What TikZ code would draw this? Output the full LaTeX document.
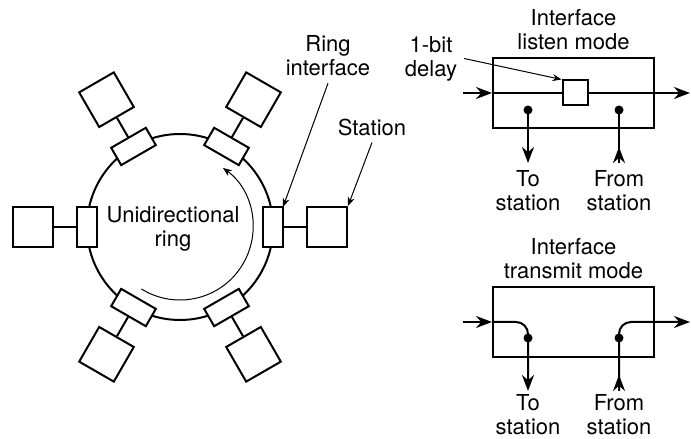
\documentclass[tikz,border=0pt]{standalone}
\usepackage{fontspec}
\setmainfont{TeX Gyre Heros}
\usetikzlibrary{arrows.meta,positioning}

\begin{document}
\begin{tikzpicture}[x=.5pt,y=.5pt,font=\fontsize{11}{12}\selectfont,st/.style={draw,line width=1pt,fill=white,minimum width=20pt,minimum height=20pt,inner sep=0pt},ifc/.style={draw,line width=1pt,fill=white,minimum width=10pt,minimum height=20pt,inner sep=0pt,outer sep=0pt},modebox/.style={draw,line width=1pt,minimum width=80.5pt,minimum height=35pt,inner sep=0pt},lbl/.style={align=center},a/.style={-{Stealth[length=8pt,width=6pt]},line width=1pt},pa/.style={-{Stealth[length=4.5pt,width=3.5pt]},line width=.5pt},jn/.style={circle,fill,inner sep=0pt,minimum size=4.5pt}]
\useasboundingbox (0,0) rectangle (691,439);
% ring with six stations
\node[circle,draw,line width=1pt,minimum size=93pt,inner sep=0pt,outer sep=0pt] (ring) at (180,212) {};
\foreach \a in {0,60,...,300}{
  \path (ring.center) ++(\a:147) node[st,rotate=\a] (s\a) {};
  \path (ring.center) ++(\a:93) coordinate (c\a);
  \node[ifc,rotate=\a] (i\a) at (c\a) {};
  \draw[line width=1pt] (i\a) -- (s\a);}
\draw[pa] (ring.center) ++(238:73) arc[start angle=238,end angle=414,radius=73];
\node[lbl] (uni) at (173,210) {Unidirectional\\ring};
\node[lbl] (rlbl) at (328,383) {Ring\\interface};
\node[lbl] (slbl) at (372,312) {Station};
\draw[pa] (rlbl.south) -- (i0.north east);
\draw[pa] (slbl.south) -- (s0.north east);
% listen mode
\node[modebox] (listen) at (573.5,346) {};
\node[lbl,above=0pt of listen] (lhead) {Interface\\listen mode};
\node[draw,line width=1pt,fill=white,minimum size=12.5pt,inner sep=0pt] (delay) at (575,346) {};
\node[lbl] (dlbl) at (431,380.5) {1-bit\\delay};
\coordinate (lin) at (463,346); \coordinate (lout) at (690,346);
\draw[a] (lin) -- (listen.west);
\draw[line width=1pt] (listen.west) -- (delay);
\draw[a] (delay) -- (lout);
\draw[pa] (dlbl.east) -- (delay.north west);
\node[jn] (ld1) at (528,329) {}; \node[jn] (ld2) at (619,329) {};
\coordinate (ldl) at (528,276); \coordinate (lul) at (619,276);
\draw[a] (ld1.center) -- (ldl);
\draw[line width=1pt] (lul) -- (ld2.center); \draw[a] (lul) -- ++(0,16);
\node[lbl,below=0pt of ldl] (lto) {To\\station};
\node[lbl,below=0pt of lul] (lfrom) {From\\station};
% transmit mode
\node[modebox] (trans) at (573.5,117) {};
\node[lbl,above=0pt of trans] (thead) {Interface\\transmit mode};
\coordinate (tin) at (463,117); \coordinate (tout) at (690,117);
\coordinate (tdl) at (528,48); \coordinate (tul) at (619,48);
\draw[a] (tin) -- (trans.west);
\draw[a,rounded corners=6pt] (trans.west) -- (tdl |- trans.west) -- (tdl);
\draw[a] (tul) -- ++(0,16);
\draw[a,rounded corners=6pt] (tul) -- (tul |- trans.east) -- (tout);
\node[jn] (td1) at (528,101) {}; \node[jn] (td2) at (619,101) {};
\node[lbl,below=-2pt of tdl] (tto) {To\\station};
\node[lbl,below=-2pt of tul] (tfrom) {From\\station};
\end{tikzpicture}
\end{document}
